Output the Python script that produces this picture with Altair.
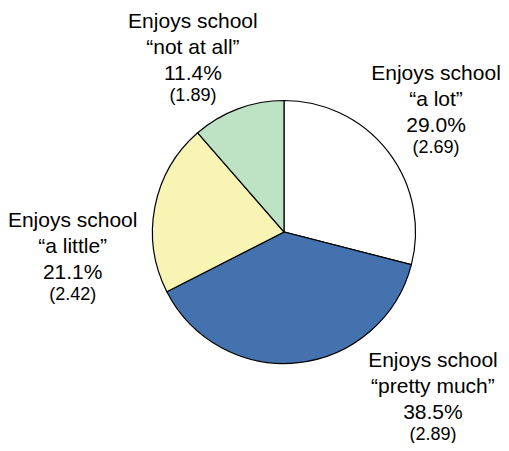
import altair as alt
import pandas as pd

# ---- data ----
categories = ["a lot", "pretty much", "a little", "not at all"]
percent = [29.0, 38.5, 21.1, 11.4]
std_err = [2.69, 2.89, 2.42, 1.89]

# ---- styles ----
colors = ["#FFFFFF", "#4472AE", "#F7F4B4", "#BEE3C4"]
CX, CY = 276, 224          # pie centre inside the view
R = 131.5                  # pie radius
LABEL_R = 200              # label anchor radius
FONT = "Liberation Sans"
label_nudge = {            # (dx, dy) nudges of the first label line
    "a lot": (-6, -29),
    "pretty much": (127, -64),
    "a little": (-15, 33),
    "not at all": (-21, -17),
}

df = pd.DataFrame({
    "cat": categories,
    "pct": percent,
    "se": std_err,
    "ord": list(range(len(categories))),
})

base = alt.Chart(df).transform_window(
    cum="sum(pct)", sort=[alt.SortField("ord")], frame=[None, 0]
).transform_joinaggregate(
    total="sum(pct)"
).transform_calculate(
    a0="(datum.cum - datum.pct) / datum.total * 2 * PI",
    a1="datum.cum / datum.total * 2 * PI",
    mid="(datum.cum - datum.pct / 2) / datum.total * 2 * PI",
    main="'Enjoys school|\u201c' + datum.cat + '\u201d|' + format(datum.pct, '.1f') + '%'",
    se_txt="'(' + format(datum.se, '.2f') + ')'",
)

arcs = base.mark_arc(outerRadius=R, stroke="black", strokeWidth=1.2).encode(
    theta=alt.Theta("a0:Q", scale=None),
    theta2="a1:Q",
    color=alt.Color("cat:N", scale=alt.Scale(domain=categories, range=colors), legend=None),
    x=alt.value(CX),
    y=alt.value(CY),
)

layers = [arcs]
for cat in categories:
    dx, dy = label_nudge[cat]
    sub = base.transform_filter(alt.datum.cat == cat)
    layers.append(
        sub.mark_text(
            radius=LABEL_R, dx=dx, dy=dy, font=FONT, fontSize=21,
            lineBreak="|", lineHeight=26, align="center", baseline="alphabetic",
            color="black",
        ).encode(
            theta=alt.Theta("mid:Q", scale=None),
            text="main:N",
            x=alt.value(CX),
            y=alt.value(CY),
        )
    )
    layers.append(
        sub.mark_text(
            radius=LABEL_R, dx=dx, dy=dy + 73, font=FONT, fontSize=18,
            align="center", baseline="alphabetic", color="black",
        ).encode(
            theta=alt.Theta("mid:Q", scale=None),
            text="se_txt:N",
            x=alt.value(CX),
            y=alt.value(CY),
        )
    )

chart = alt.layer(*layers).properties(
    width=493, height=435, autosize="none", padding=0
).configure_view(stroke=None)

chart.save("out.html", embed_options={"renderer": "svg", "actions": False})
